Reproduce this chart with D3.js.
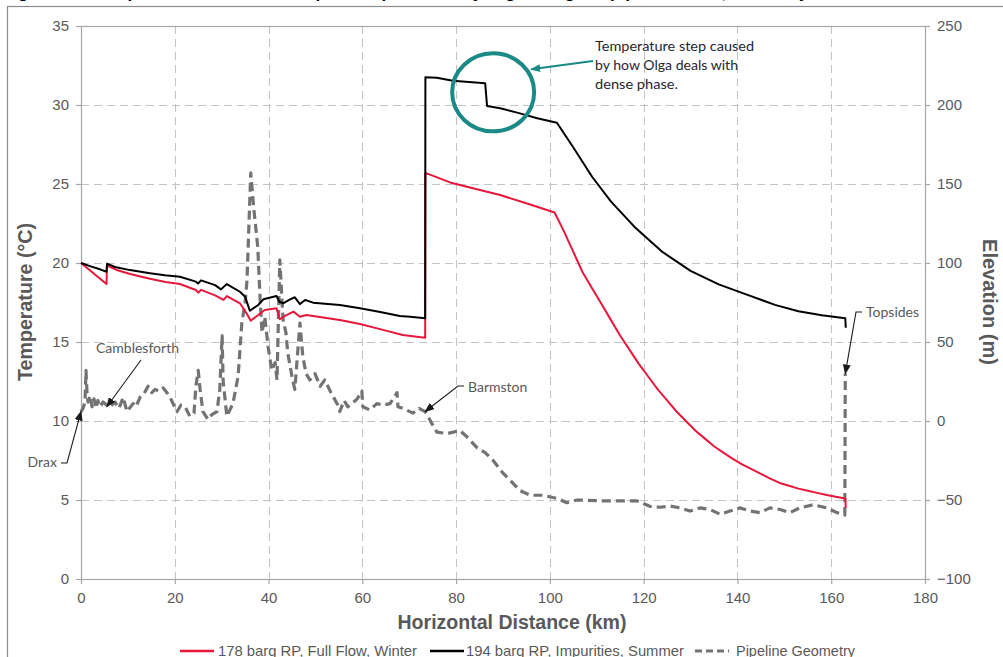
<!DOCTYPE html>
<html>
<head>
<meta charset="utf-8">
<script src="https://cdn.jsdelivr.net/npm/d3@7"></script>
<style>
  html, body { margin: 0; padding: 0; background: #fff; }
  svg { display: block; }
</style>
</head>
<body>
<svg id="chart" width="1003" height="657"></svg>
<script>
// ---- Data ----------------------------------------------------------------
// Temperature along the route (km, °C): 178 barg RP, full flow, winter
const winterProfile = [
  [0, 20.0], [5.44, 18.67], [5.55, 19.83], [7.6, 19.56], [10.5, 19.3], [14.7, 19.0],
  [18.0, 18.8], [21.1, 18.67], [24.5, 18.29], [25.0, 18.12], [25.6, 18.3], [28.6, 17.95],
  [30.4, 17.66], [31.1, 17.91], [33.9, 17.45], [35.3, 16.82], [36.2, 16.35], [37.8, 16.71],
  [39.2, 17.03], [41.7, 17.13], [42.4, 16.44], [43.5, 16.65], [45.3, 16.92], [46.7, 16.6],
  [48.1, 16.71], [49.5, 16.65], [55.2, 16.39], [59.5, 16.14], [64.0, 15.8], [68.6, 15.44],
  [73.4, 15.27], [73.45, 25.7], [78.7, 25.1], [84.0, 24.7], [89.4, 24.3], [95.8, 23.7],
  [101.0, 23.2], [103, 22.0], [105, 20.7], [107, 19.4], [109, 18.4], [111, 17.4],
  [113, 16.4], [115, 15.4], [117, 14.5], [119, 13.6], [121, 12.8], [123, 12.0],
  [125, 11.3], [127, 10.6], [129, 10.0], [131, 9.4], [133, 8.9], [135, 8.4],
  [137, 8.0], [139, 7.6], [141, 7.25], [143, 6.95], [145, 6.65], [147, 6.35],
  [149, 6.08], [151, 5.9], [153, 5.72], [155, 5.58], [157, 5.45], [159, 5.32],
  [161, 5.2], [163, 5.1], [163.1, 4.5]
];

// Temperature along the route (km, °C): 194 barg RP, impurities, summer
const summerProfile = [
  [0, 20.0], [1.9, 19.8], [4.05, 19.6], [5.44, 19.45], [5.55, 19.95], [7.25, 19.75],
  [10.45, 19.55], [14.7, 19.35], [17.9, 19.22], [21.1, 19.13], [24.5, 18.82], [24.95, 18.7],
  [25.6, 18.9], [28.6, 18.6], [29.85, 18.33], [31.1, 18.67], [33.9, 18.18], [35.0, 17.87],
  [36.0, 16.98], [37.8, 17.34], [38.9, 17.7], [41.7, 17.91], [42.3, 17.55], [43.1, 17.45],
  [44.6, 17.7], [45.6, 17.83], [46.7, 17.4], [47.8, 17.66], [49.5, 17.49], [55.2, 17.34],
  [59.5, 17.13], [63.8, 16.9], [68.0, 16.65], [70.2, 16.6], [73.4, 16.5], [73.45, 31.75],
  [75.9, 31.73], [79.3, 31.54], [86.2, 31.37], [86.6, 29.94], [89.4, 29.79], [93.6, 29.47],
  [97.3, 29.16], [101.5, 28.88], [104.9, 27.36], [109.0, 25.46], [113, 23.9], [118, 22.3],
  [124, 20.7], [130, 19.5], [136, 18.65], [142, 18.0], [148, 17.35], [153, 16.95],
  [158, 16.7], [163, 16.5], [163.1, 15.9]
];

// Pipeline elevation along the route (km, m)
const pipelineGeometry = [
  [0, 5.9], [0.43, 8], [0.85, 12], [1.07, 32], [1.28, 18], [1.49, 12], [1.92, 16],
  [2.35, 9], [2.77, 14], [3.2, 8], [3.6, 13], [4.05, 9], [4.7, 12], [5.5, 10],
  [6.2, 9], [7.25, 12], [8.1, 8], [9.0, 15], [9.8, 6], [11.1, 11], [11.7, 9],
  [12.6, 15], [13.4, 17], [14.3, 22], [15.1, 18], [15.8, 20], [16.6, 19], [17.5, 21],
  [18.3, 18], [19.0, 15], [19.8, 10], [20.5, 6], [21.3, 10], [22.2, 9], [23.2, 3],
  [24.1, 5], [24.5, 22], [25.0, 32], [25.4, 20], [26.0, 6], [27.1, 1], [27.9, 4],
  [29.0, 6], [29.6, 20], [30.1, 54], [30.3, 26], [31.1, 3], [32.4, 11], [33.5, 28],
  [34.3, 62], [35.0, 75], [35.4, 89], [36.2, 157], [36.9, 133], [37.7, 110], [38.2, 77],
  [38.6, 56], [39.2, 66], [39.9, 47], [40.7, 32], [41.4, 37], [41.8, 26], [42.4, 102],
  [43.1, 64], [43.7, 56], [44.1, 43], [45.0, 28], [45.6, 20], [46.7, 62], [47.3, 41],
  [48.0, 30], [48.8, 26], [49.9, 30], [51.0, 22], [52.0, 26], [53.3, 18], [54.8, 10],
  [55.2, 6], [56.1, 13], [56.9, 9], [57.8, 11], [58.9, 14], [59.9, 19], [60.1, 9],
  [61.6, 7], [63.1, 11], [64.4, 10], [65.9, 11], [67.4, 18], [67.6, 9], [68.7, 8],
  [70.8, 5], [72.1, 8], [73.4, 5.9], [74.0, 3], [74.9, -2], [75.9, -7], [78.1, -8],
  [80.8, -6], [82.3, -10], [84.5, -17], [86.2, -20], [87.9, -25], [90.0, -33], [91.7, -38],
  [93.6, -44], [95.8, -47], [98.5, -47], [101.5, -49], [103.6, -51.7], [105.8, -50],
  [112.2, -50.6], [118.6, -50.6], [121.3, -54], [123.5, -54.6], [125.6, -53.8], [127.8, -55],
  [129.9, -57], [132.0, -55], [134.1, -56], [136.3, -59], [138.4, -57], [140.5, -55],
  [142.7, -57], [144.8, -58], [146.9, -55], [149.1, -56], [151.2, -58], [153.3, -55],
  [156.1, -53], [159.1, -55], [161.2, -58], [162.9, -59.5], [163.0, 30]
];

// Axis ticks
const distanceTicks = [0, 20, 40, 60, 80, 100, 120, 140, 160, 180];
const temperatureTicks = [0, 5, 10, 15, 20, 25, 30, 35];
const elevationTicks = [-100, -50, 0, 50, 100, 150, 200, 250];

// Series labels
const seriesNames = ["178 barg RP, Full Flow, Winter", "194 barg RP, Impurities, Summer", "Pipeline Geometry"];

// Named locations along the route (km, elevation m)
const locations = [
  { name: "Drax", km: 0, elev: 6 },
  { name: "Camblesforth", km: 5.5, elev: 9 },
  { name: "Barmston", km: 73.4, elev: 6 },
  { name: "Topsides", km: 163, elev: 30 }
];

// ---- Layout ----------------------------------------------------------------
const svg = d3.select("#chart");
const plot = { left: 81, right: 925, top: 26, bottom: 579 };
const tickFont = "'Liberation Sans', Arial, sans-serif";
const noteFont = "Lato, 'Open Sans', sans-serif";
const grey = "#595959";

const x = d3.scaleLinear().domain([0, 180]).range([plot.left, plot.right]);
const yT = d3.scaleLinear().domain([0, 35]).range([plot.bottom, plot.top]);
const yE = d3.scaleLinear().domain([-100, 250]).range([plot.bottom, plot.top]);

// Outer chart frame and the caption sitting above it
svg.append("text")
  .attr("x", 3).attr("y", -2.5)
  .attr("font-family", tickFont).attr("font-weight", "bold").attr("font-size", 17)
  .attr("fill", "#000")
  .text("Figure 6.4: Temperature and Elevation profiles predicted by Olga along the pipeline route, Summary");

svg.append("rect")
  .attr("x", 7.5).attr("y", 6.5).attr("width", 1010).attr("height", 670)
  .attr("fill", "none").attr("stroke", "#8c8c8c").attr("stroke-width", 1.2);

// Gridlines
const grid = svg.append("g").attr("stroke", "#c4c4c4").attr("stroke-width", 1)
  .attr("stroke-dasharray", "8,5");
grid.selectAll("line.h").data(temperatureTicks.filter(t => t > 0 && t < 35)).join("line")
  .attr("x1", plot.left).attr("x2", plot.right)
  .attr("y1", d => Math.round(yT(d)) + 0.5).attr("y2", d => Math.round(yT(d)) + 0.5);
grid.selectAll("line.v").data(distanceTicks.filter(t => t > 0 && t < 180)).join("line")
  .attr("y1", plot.top).attr("y2", plot.bottom)
  .attr("x1", d => Math.round(x(d)) + 0.5).attr("x2", d => Math.round(x(d)) + 0.5);

// Plot area border
svg.append("rect")
  .attr("x", plot.left + 0.5).attr("y", plot.top + 0.5)
  .attr("width", plot.right - plot.left).attr("height", plot.bottom - plot.top)
  .attr("fill", "none").attr("stroke", "#a6a6a6").attr("stroke-width", 1.2);

// Axes
function styleAxis(g) {
  g.select(".domain").remove();
  g.selectAll(".tick line").attr("stroke", "#a6a6a6").attr("stroke-width", 1.2);
  g.selectAll(".tick text").attr("fill", grey).attr("font-family", tickFont).attr("font-size", 15);
}
svg.append("g").attr("transform", `translate(${plot.left},0)`)
  .call(d3.axisLeft(yT).tickValues(temperatureTicks).tickSize(5).tickPadding(7))
  .call(styleAxis);
svg.append("g").attr("transform", `translate(${plot.right},0)`)
  .call(d3.axisRight(yE).tickValues(elevationTicks).tickSize(5).tickPadding(7))
  .call(styleAxis);
svg.append("g").attr("transform", `translate(0,${plot.bottom})`)
  .call(d3.axisBottom(x).tickValues(distanceTicks).tickSize(5).tickPadding(8))
  .call(styleAxis);

// Axis titles
svg.append("text")
  .attr("transform", "translate(32,302) rotate(-90)")
  .attr("text-anchor", "middle")
  .attr("font-family", tickFont).attr("font-weight", "bold").attr("font-size", 19.5)
  .attr("fill", grey).attr("textLength", 158).attr("lengthAdjust", "spacingAndGlyphs")
  .text("Temperature (°C)");
svg.append("text")
  .attr("transform", "translate(983,302) rotate(90)")
  .attr("text-anchor", "middle")
  .attr("font-family", tickFont).attr("font-weight", "bold").attr("font-size", 19.5)
  .attr("fill", grey).attr("textLength", 126).attr("lengthAdjust", "spacingAndGlyphs")
  .text("Elevation (m)");
svg.append("text")
  .attr("x", 512).attr("y", 629)
  .attr("text-anchor", "middle")
  .attr("font-family", tickFont).attr("font-weight", "bold").attr("font-size", 19.5)
  .attr("fill", grey).attr("textLength", 229).attr("lengthAdjust", "spacingAndGlyphs")
  .text("Horizontal Distance (km)");

// Series lines
const lineT = d3.line().x(d => x(d[0])).y(d => yT(d[1]));
const lineE = d3.line().x(d => x(d[0])).y(d => yE(d[1]));

svg.append("path").datum(pipelineGeometry)
  .attr("d", lineE).attr("fill", "none")
  .attr("stroke", "#737373").attr("stroke-width", 3.2)
  .attr("stroke-dasharray", "9,5").attr("stroke-linejoin", "round");
svg.append("path").datum(winterProfile)
  .attr("d", lineT).attr("fill", "none")
  .attr("stroke", "#e8173b").attr("stroke-width", 2).attr("stroke-linejoin", "round");
svg.append("path").datum(summerProfile)
  .attr("d", lineT).attr("fill", "none")
  .attr("stroke", "#000").attr("stroke-width", 2).attr("stroke-linejoin", "round");

// Arrowhead markers
const defs = svg.append("defs");
function marker(id, color) {
  defs.append("marker").attr("id", id)
    .attr("viewBox", "0 0 10 8").attr("refX", 9).attr("refY", 4)
    .attr("markerWidth", 10).attr("markerHeight", 8)
    .attr("markerUnits", "userSpaceOnUse").attr("orient", "auto")
    .append("path").attr("d", "M0,0 L10,4 L0,8 Z").attr("fill", color);
}
marker("arrowDark", "#1a1a1a");
marker("arrowTeal", "#1b8a86");

// Location call-outs: label position and leader points ending at the tip
const calloutLayout = {
  "Drax": { tx: 57, ty: 467, anchor: "end", path: tip => [[61, 463], [67, 463], [tip[0], tip[1]]] },
  "Camblesforth": { tx: 96, ty: 353, anchor: "start", path: tip => [[141, 360], [tip[0], tip[1]]] },
  "Barmston": { tx: 468, ty: 392, anchor: "start", path: tip => [[464, 386], [458, 386], [tip[0], tip[1]]] },
  "Topsides": { tx: 866, ty: 317, anchor: "start", path: tip => [[862, 312], [856, 312], [tip[0], tip[1]]] }
};
locations.forEach(loc => {
  const lay = calloutLayout[loc.name];
  const tip = [x(loc.km), yE(loc.elev)];
  svg.append("path")
    .attr("d", d3.line()(lay.path(tip)))
    .attr("fill", "none").attr("stroke", "#1a1a1a").attr("stroke-width", 1.1)
    .attr("marker-end", "url(#arrowDark)");
  svg.append("text")
    .attr("x", lay.tx).attr("y", lay.ty).attr("text-anchor", lay.anchor)
    .attr("font-family", noteFont).attr("font-size", 14).attr("fill", grey)
    .text(loc.name);
});

// Note on the temperature step in the summer case
const stepNote = { km: 87.9, temp: 30.8 };
const cx = x(stepNote.km), cy = yT(stepNote.temp);
svg.append("ellipse")
  .attr("cx", cx).attr("cy", cy).attr("rx", 41).attr("ry", 39)
  .attr("fill", "none").attr("stroke", "#1b8a86").attr("stroke-width", 4);
svg.append("line")
  .attr("x1", 593).attr("y1", 61).attr("x2", cx + 38).attr("y2", cy - 23)
  .attr("stroke", "#1b8a86").attr("stroke-width", 2)
  .attr("marker-end", "url(#arrowTeal)");
const noteLines = ["Temperature step caused", "by how Olga deals with", "dense phase."];
const noteWidths = [159, 143, 83];
svg.append("g").selectAll("text").data(noteLines).join("text")
  .attr("x", 595).attr("y", (d, i) => 51 + i * 19)
  .attr("font-family", noteFont).attr("font-size", 14).attr("fill", "#262633")
  .attr("textLength", (d, i) => noteWidths[i]).attr("lengthAdjust", "spacingAndGlyphs")
  .text(d => d);

// Legend
const legendItems = [
  { name: seriesNames[0], color: "#e8173b", dash: null, width: 2.5, x0: 180, x1: 214, tx: 218, tw: 199 },
  { name: seriesNames[1], color: "#000", dash: null, width: 2.5, x0: 430, x1: 464, tx: 466, tw: 218 },
  { name: seriesNames[2], color: "#737373", dash: "7,4", width: 3, x0: 695, x1: 729, tx: 736, tw: 119 }
];
const legend = svg.append("g");
legendItems.forEach(it => {
  legend.append("line")
    .attr("x1", it.x0).attr("x2", it.x1).attr("y1", 651).attr("y2", 651)
    .attr("stroke", it.color).attr("stroke-width", it.width)
    .attr("stroke-dasharray", it.dash);
  legend.append("text")
    .attr("x", it.tx).attr("y", 656)
    .attr("font-family", tickFont).attr("font-size", 14.6).attr("fill", grey)
    .attr("textLength", it.tw).attr("lengthAdjust", "spacingAndGlyphs")
    .text(it.name);
});
</script>
</body>
</html>
